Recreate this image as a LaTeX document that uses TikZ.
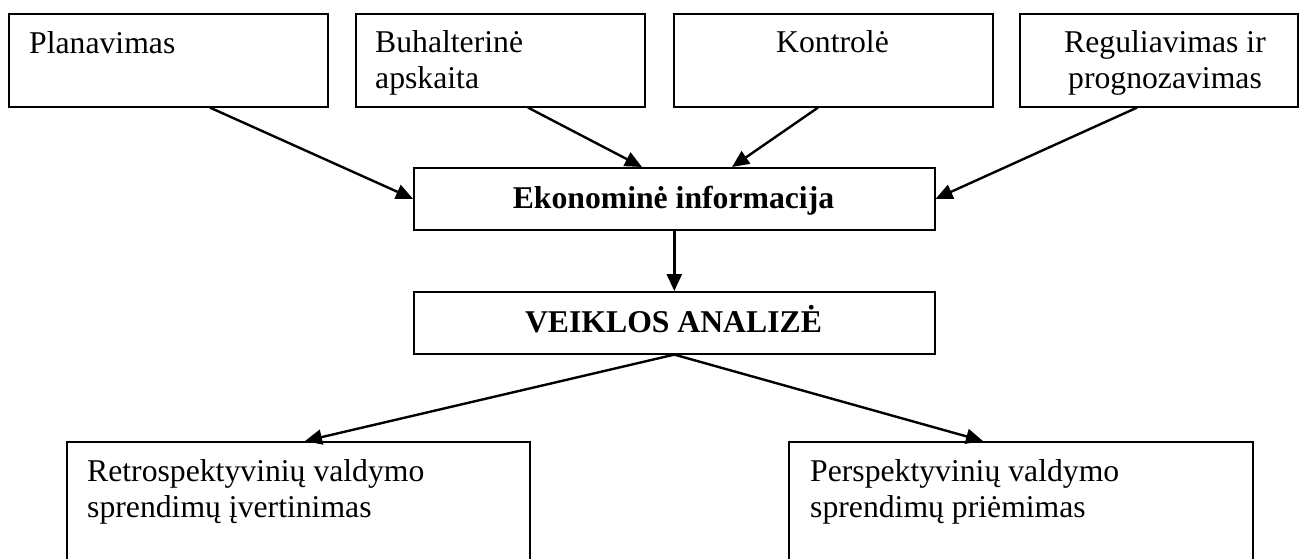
\documentclass[tikz,border=0pt]{standalone}
\usepackage{fontspec}
\setmainfont{Liberation Serif}
\usetikzlibrary{arrows.meta}
\begin{document}
\begin{tikzpicture}[x=1pt,y=-1pt,
  box/.style={draw,line width=1.6pt,inner sep=0pt,anchor=north west},
  txt/.style={inner sep=0pt,font=\fontsize{31.7}{36}\selectfont},
  btxt/.style={inner sep=0pt,font=\fontsize{31.7}{36}\selectfont\bfseries},
  arr/.style={line width=2.4pt,-{Triangle[length=17pt,width=15pt]}}]
\useasboundingbox (0,0) rectangle (1300,558);
\clip (0,0) rectangle (1300,558);

% upper row of sources
\node[box,minimum width=319pt,minimum height=93pt] (plan) at (8,13) {};
\node[box,minimum width=289pt,minimum height=93pt] (buh) at (355,13) {};
\node[box,minimum width=319pt,minimum height=93pt] (kon) at (673,13) {};
\node[box,minimum width=278pt,minimum height=93pt] (reg) at (1019,13) {};

% the base anchor of a two-line text sits on its last line
\node[txt,anchor=base west] (planT) at (29,53) {Planavimas};
\node[txt,anchor=base west,align=left] (buhT) at (375,88) {Buhalterinė\\apskaita};
\node[txt,anchor=base] (konT) at (832.5,52) {Kontrolė};
\node[txt,anchor=base,align=center] (regT) at (1165,88) {Reguliavimas ir\\prognozavimas};

% central chain
\node[box,minimum width=521pt,minimum height=62pt] (eko) at (413,167) {};
\node[btxt,anchor=base] (ekoT) at (673.5,208.5) {Ekonominė informacija};
\node[box,minimum width=521pt,minimum height=62pt] (vei) at (413,291) {};
\node[btxt,anchor=base] (veiT) at (673.5,332.5) {VEIKLOS ANALIZĖ};

% results
\node[box,minimum width=463pt,minimum height=160pt] (ret) at (66,441) {};
\node[box,minimum width=464pt,minimum height=160pt] (per) at (788,441) {};
\node[txt,anchor=base west,align=left] (retT) at (87,517) {Retrospektyvinių valdymo\\sprendimų įvertinimas};
\node[txt,anchor=base west,align=left] (perT) at (810,517) {Perspektyvinių valdymo\\sprendimų priėmimas};

% connectors
\draw[arr] ([xshift=202pt]plan.south west) -- (eko.west);
\draw[arr] ([xshift=173pt]buh.south west) -- ([xshift=229pt]eko.north west);
\draw[arr] ([xshift=145pt]kon.south west) -- ([xshift=319pt]eko.north west);
\draw[arr] ([xshift=118pt]reg.south west) -- (eko.east);
\draw[arr] (eko.south) -- (vei.north);
\draw[arr] (vei.south) -- ([xshift=239pt]ret.north west);
\draw[arr] (vei.south) -- ([xshift=195pt]per.north west);
\end{tikzpicture}
\end{document}
